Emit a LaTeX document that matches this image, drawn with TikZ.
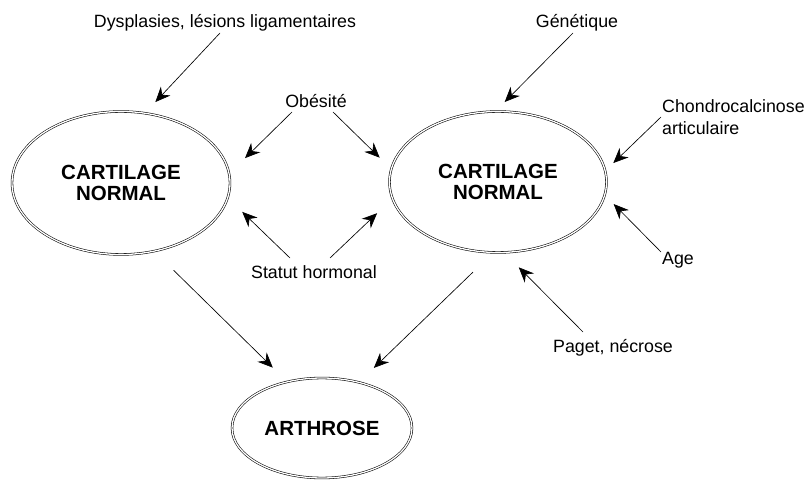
\documentclass[tikz,border=0pt]{standalone}
\usepackage{fontspec}
\setmainfont{Liberation Sans}
\usetikzlibrary{arrows.meta,shapes.geometric}

\begin{document}
\begin{tikzpicture}[x=1pt,y=1pt]
\tikzset{
  cartnode/.style={ellipse,draw,double,double distance=1.3pt,line width=0.55pt,inner sep=0pt,align=center,font=\bfseries\fontsize{20.5}{21}\selectfont},
  labelnode/.style={inner sep=1pt,align=left,font=\fontsize{17.8}{22}\selectfont},
  directed/.style={-{Stealth[length=15pt,width=13pt,inset=5pt]},line width=0.65pt}
}
\useasboundingbox (0,0) rectangle (808,479);
\node[cartnode,minimum width=218pt,minimum height=143pt] (n_CL) at (121,296) {CARTILAGE\\NORMAL};
\node[cartnode,minimum width=217pt,minimum height=141pt] (n_CR) at (498,297) {CARTILAGE\\NORMAL};
\node[cartnode,minimum width=180pt,minimum height=100pt] (n_AR) at (322,51) {ARTHROSE};
\node[labelnode] (n_dys) at (225,456) {Dysplasies, lésions ligamentaires};
\node[labelnode] (n_gen) at (577,456) {Génétique};
\node[labelnode,anchor=west] (n_chon) at (661,362) {Chondrocalcinose\\articulaire};
\node[labelnode,anchor=west] (n_age) at (661,219) {Age};
\node[labelnode] (n_obe) at (316,378) {Obésité};
\node[labelnode] (n_sta) at (314,207) {Statut hormonal};
\node[labelnode] (n_pag) at (613,131) {Paget, nécrose};
\draw[directed,shorten >=15pt] ([shift={(-5,-10)}]n_dys.center) -- (n_CL.71);
\draw[directed,shorten >=13pt] ([shift={(-4,-10)}]n_gen.center) -- (n_CR.92);
\draw[directed,shorten >=11pt] (n_chon.west) -- (n_CR.6);
\draw[directed,shorten >=12.5pt] ([yshift=8pt]n_age.west) -- (n_CR.-7.6);
\draw[directed,shorten >=22pt] ([shift={(-24,-11)}]n_obe.center) -- (n_CL.5);
\draw[directed,shorten >=16pt] ([shift={(17,-11)}]n_obe.center) -- (n_CR.173.2);
\draw[directed,shorten >=20pt] ([shift={(-24,14)}]n_sta.center) -- (n_CL.-8.1);
\draw[directed,shorten >=21pt] ([shift={(16,14)}]n_sta.center) -- (n_CR.-171.8);
\draw[directed,shorten >=20.7pt] ([shift={(-30,16)}]n_pag.center) -- (n_CR.-85.6);
\draw[directed,shorten <=27pt,shorten >=20pt] (n_CL.-64) -- (n_AR.127);
\draw[directed,shorten <=28pt,shorten >=20.5pt] (n_CR.-94.7) -- (n_AR.51.5);
\end{tikzpicture}
\end{document}
